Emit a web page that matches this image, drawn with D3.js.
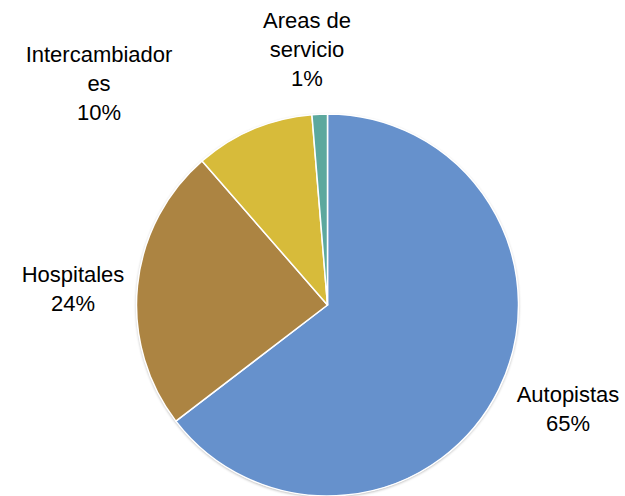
<!DOCTYPE html>
<html>
<head>
<meta charset="utf-8">
<script src="https://cdn.jsdelivr.net/npm/d3@7"></script>
<style>
  body { margin: 0; background: #fff; }
  svg text { font-family: Arial, "Liberation Sans", sans-serif; font-size: 22px; fill: #000; }
</style>
</head>
<body>
<svg class="chart"></svg>
<script>
// data, clockwise from 12 o'clock
const categories = ['Autopistas', 'Hospitales', 'Intercambiadores', 'Areas de servicio'];
const shares = [64.6, 24.0, 10.1, 1.3];
// how each label wraps in the original
const labelLines = [['Autopistas'], ['Hospitales'], ['Intercambiador', 'es'], ['Areas de', 'servicio']];

const colors = ['#6691cc', '#ac8442', '#d7bb3a', '#5ca89e'];

const w = 625, h = 496;
const cx = 327.5, cy = 305, r = 191;
const lineH = 29;

// label anchor (center x, first baseline) for each slice
const labelPos = {
  'Autopistas': [568, 402],
  'Hospitales': [73, 282],
  'Intercambiadores': [99, 62],
  'Areas de servicio': [307, 28]
};

const data = categories.map((c, i) => ({ name: c, value: shares[i], lines: labelLines[i] }));

const svg = d3.select('.chart').attr('width', w).attr('height', h);

const defs = svg.append('defs');
const f = defs.append('filter').attr('id', 'shadow')
  .attr('x', '-10%').attr('y', '-10%').attr('width', '120%').attr('height', '120%');
f.append('feGaussianBlur').attr('in', 'SourceAlpha').attr('stdDeviation', 1.6);
f.append('feOffset').attr('dx', 0).attr('dy', 1).attr('result', 'b');
f.append('feComponentTransfer').append('feFuncA').attr('type', 'linear').attr('slope', 0.35);
const m = f.append('feMerge');
m.append('feMergeNode');
m.append('feMergeNode').attr('in', 'SourceGraphic');

const pie = d3.pie().sort(null).value(d => d.value);
const arcs = pie(data);
const arcGen = d3.arc().innerRadius(0).outerRadius(r);

const g = svg.append('g').attr('transform', `translate(${cx},${cy})`);

g.append('circle').attr('r', r).attr('fill', '#fff').attr('filter', 'url(#shadow)');

g.selectAll('.slice').data(arcs).join('path')
  .attr('class', 'slice')
  .attr('d', arcGen)
  .attr('fill', (d, i) => colors[i])
  .attr('stroke', '#fff')
  .attr('stroke-width', 1.5)
  .attr('stroke-linejoin', 'round');

const total = d3.sum(shares);
const labels = svg.selectAll('.label').data(data).join('text')
  .attr('class', 'label')
  .attr('text-anchor', 'middle');

labels.each(function(d) {
  const [x, y] = labelPos[d.name];
  const lines = d.lines.concat([Math.round(d.value / total * 100) + '%']);
  d3.select(this).selectAll('tspan').data(lines).join('tspan')
    .attr('x', x)
    .attr('y', (t, i) => y + i * lineH)
    .text(t => t);
});
</script>
</body>
</html>
